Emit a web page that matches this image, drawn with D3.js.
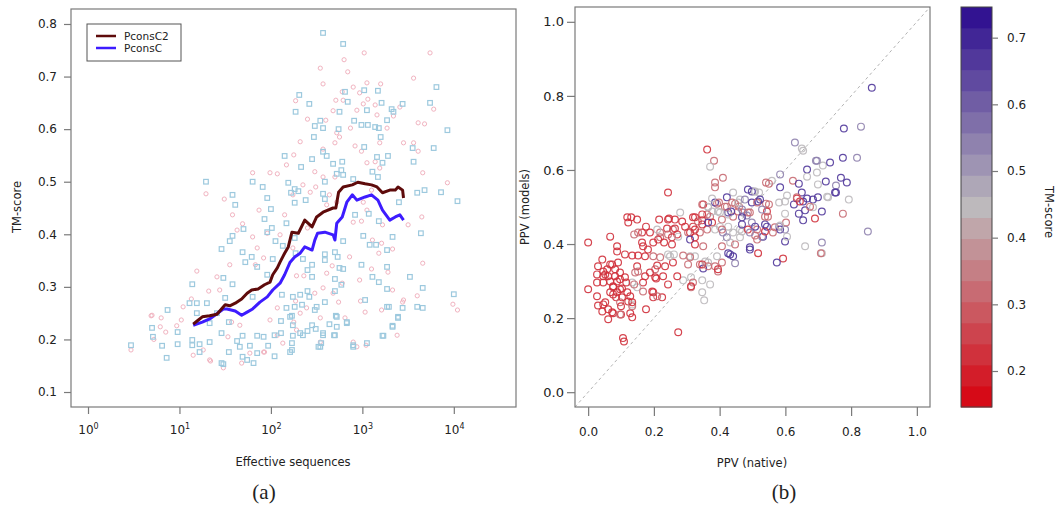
<!DOCTYPE html>
<html lang="en">
<head>
<meta charset="UTF-8"/>
<title>PconsC2 TM-score and PPV</title>
<script src="https://d3js.org/d3.v7.min.js"></script>
<style>
	body { margin: 0; background: #fff; }
	svg text { font-family: "DejaVu Sans", sans-serif; fill: #222; }
	.frame { fill: none; stroke: #7a7a7a; stroke-width: 1.2; }
	.axis path { display: none; }
	.axis line { stroke: #7a7a7a; stroke-width: 1.2; }
	.axis text { font-size: 12px; fill: #222; font-family: "DejaVu Sans", sans-serif; }
	.title { font-size: 11.5px; }
	.caption { font-family: "Liberation Serif", "DejaVu Serif", serif; font-size: 21px; }
</style>
</head>
<body>
<div id="chart"></div>
<script>
// (a) points: [log10(effective sequences), TM-score]
var pconsCPoints = [
[1.29,0.50],[1.80,0.50],[1.58,0.475],[1.91,0.49],[1.61,0.456],[1.96,0.469],[2.00,0.448],[1.93,0.429],[1.70,0.41],[1.46,0.372],
[1.58,0.397],[1.55,0.387],[1.69,0.366],[1.79,0.357],[1.72,0.347],[1.85,0.338],[2.01,0.412],[2.05,0.387],[2.13,0.378],[2.02,0.353],
[1.96,0.323],[1.48,0.317],[1.58,0.305],[1.14,0.305],[1.11,0.269],[1.19,0.269],[1.30,0.269],[1.50,0.279],[1.80,0.281],[0.87,0.256],
[0.70,0.222],[0.71,0.205],[0.81,0.188],[0.86,0.165],[0.47,0.189],[0.98,0.214],[0.98,0.191],[1.14,0.199],[1.14,0.189],[1.22,0.191],
[1.22,0.176],[1.33,0.195],[1.46,0.212],[1.54,0.233],[1.54,0.176],[1.46,0.155],[1.63,0.197],[1.69,0.207],[1.66,0.186],[1.77,0.188],
[1.85,0.207],[1.85,0.174],[1.92,0.205],[2.04,0.208],[1.97,0.188],[2.11,0.212],[2.11,0.235],[2.17,0.26],[2.23,0.245],[2.24,0.281],
[2.12,0.285],[1.69,0.167],[1.81,0.155],[2.04,0.168],[2.21,0.176],[2.23,0.193],[2.21,0.243],[2.24,0.227],[2.17,0.421],[2.26,0.393],
[2.19,0.498],[2.22,0.479],[2.26,0.486],[2.15,0.549],[1.96,0.404],[1.33,0.231],[1.41,0.25],[1.19,0.25],
[1.48,0.153],[1.74,0.161],[2.40,0.216],[2.54,0.186],[2.70,0.208],[2.90,0.186],[3.05,0.193],[3.22,0.207],[3.27,0.262],[3.39,0.243],
[3.33,0.224],[3.60,0.262],[3.66,0.26],[3.03,0.275],[2.72,0.243],[2.83,0.233],[2.48,0.256],[2.57,0.212],
[2.57,0.783],[2.79,0.762],[3.81,0.68],[3.02,0.674],[3.17,0.673],[2.81,0.671],[3.21,0.65],[3.05,0.636],[3.32,0.638],[3.34,0.633],
[3.44,0.648],[3.74,0.65],[2.84,0.652],[2.75,0.633],[2.91,0.616],[2.99,0.608],[3.06,0.608],[3.14,0.604],[3.18,0.602],[3.27,0.617],
[3.93,0.598],[2.57,0.602],[2.48,0.606],[2.54,0.616],[2.47,0.585],[2.31,0.665],[2.27,0.633],[2.42,0.648],[2.74,0.60],[3.20,0.585],
[3.02,0.566],[3.16,0.547],[3.28,0.549],[3.55,0.564],[3.78,0.564],[3.56,0.538],[2.61,0.549],[2.57,0.557],[2.45,0.543],[2.68,0.534],
[2.78,0.538],[2.33,0.528],[3.22,0.536],[3.17,0.509],[2.72,0.515],[2.79,0.513],[2.77,0.522],[3.11,0.519],[2.59,0.50],[2.90,0.505],
[3.68,0.484],[3.86,0.48],[4.04,0.463],[3.60,0.479],[3.40,0.461],[2.38,0.465],[2.26,0.46],[2.30,0.482],[2.59,0.467],[2.57,0.477],
[3.07,0.439],[3.18,0.425],[2.92,0.437],[3.64,0.402],[3.01,0.397],[3.08,0.38],[3.15,0.38],[3.33,0.395],[3.27,0.37],[2.79,0.387],
[2.59,0.362],[2.70,0.366],[2.73,0.357],[2.99,0.342],[3.27,0.338],[2.59,0.351],[2.45,0.342],[2.40,0.332],[2.35,0.353],[2.27,0.364],
[2.45,0.319],[2.75,0.336],[2.79,0.334],[2.70,0.315],[3.11,0.319],[3.18,0.309],[3.52,0.319],[3.66,0.298],[4.00,0.286],[3.27,0.296],
[2.70,0.292],[2.77,0.304],[2.40,0.292],[2.42,0.281],[2.32,0.285],[2.34,0.266],[2.26,0.262],[2.50,0.262],[2.59,0.271],[2.71,0.245],
[3.29,0.262],[3.44,0.26],[3.39,0.241],[3.33,0.226],[2.83,0.231],[2.45,0.227],[2.49,0.22],[2.64,0.229],[2.72,0.224],[2.57,0.208],
[2.69,0.208],[2.32,0.212],[2.35,0.208],[2.24,0.207],[2.55,0.193],[2.52,0.186],[2.90,0.189],[3.23,0.207],[2.23,0.18]
];
var pconsC2Points = [
[1.29,0.477],[1.49,0.467],[1.58,0.437],[1.87,0.446],[1.80,0.517],[1.99,0.517],[2.17,0.532],[2.07,0.515],[1.69,0.42],[1.80,0.395],
[1.96,0.402],[1.85,0.374],[1.92,0.355],[1.83,0.342],[1.55,0.342],[1.19,0.33],[1.41,0.319],[1.13,0.277],[1.32,0.292],[1.44,0.294],
[1.04,0.262],[0.69,0.245],[0.80,0.241],[1.02,0.237],[0.97,0.226],[0.85,0.214],[0.72,0.20],[0.47,0.18],[1.15,0.17],[1.26,0.18],
[1.34,0.159],[1.48,0.146],[1.57,0.233],[1.66,0.227],[1.77,0.174],[1.92,0.176],[2.13,0.193],[2.28,0.218],[2.07,0.26],[1.99,0.237],
[1.53,0.205],[2.10,0.399],[2.15,0.437],[1.63,0.408],
[0.70,0.246],[0.79,0.224],[1.33,0.161],[1.68,0.155],[1.93,0.176],[2.07,0.208],[2.54,0.195],[2.90,0.195],[3.04,0.189],[3.38,0.208],
[3.99,0.267],[4.04,0.256],[3.44,0.271],
[3.02,0.745],[3.74,0.745],[2.80,0.732],[2.54,0.716],[2.84,0.709],[3.56,0.697],[2.57,0.686],[2.90,0.68],[3.05,0.688],[3.20,0.686],
[2.78,0.671],[2.97,0.669],[3.06,0.657],[3.01,0.648],[3.14,0.646],[2.71,0.655],[2.79,0.655],[2.27,0.654],[2.68,0.635],[2.94,0.636],
[3.16,0.627],[3.34,0.625],[3.41,0.642],[3.78,0.638],[3.61,0.612],[3.68,0.61],[3.27,0.602],[2.40,0.619],[2.60,0.617],[2.87,0.602],
[2.72,0.593],[2.75,0.585],[2.32,0.576],[2.70,0.574],[2.92,0.568],[3.19,0.574],[3.45,0.574],[3.56,0.574],[3.61,0.558],[2.57,0.562],
[2.99,0.558],[2.25,0.551],[3.05,0.536],[3.14,0.538],[3.66,0.517],[2.48,0.519],[2.57,0.509],[2.70,0.509],[3.19,0.526],[3.93,0.498],
[2.35,0.494],[2.49,0.49],[2.43,0.48],[2.64,0.475],[2.61,0.456],[2.72,0.461],[3.01,0.461],[3.10,0.484],[2.24,0.475],[3.05,0.446],
[3.65,0.433],[2.90,0.423],[2.99,0.425],[3.22,0.418],[3.50,0.418],[2.40,0.412],[3.11,0.389],[3.21,0.383],[3.33,0.372],[2.24,0.374],
[2.86,0.357],[2.67,0.34],[3.18,0.364],[3.66,0.345],[3.10,0.334],[2.28,0.321],[2.36,0.321],[2.61,0.326],[3.28,0.328],[2.78,0.307],
[2.97,0.313],[3.33,0.294],[3.60,0.283],[2.57,0.298],[2.48,0.288],[2.68,0.288],[2.27,0.273],[2.74,0.271],[2.98,0.273],[3.45,0.275],
[3.03,0.252],[2.39,0.26],[3.21,0.256],[2.81,0.241],[2.54,0.241],[2.25,0.233],[2.32,0.25],[2.94,0.186]
];

// running averages
var pconsC2Line = [[1.15,0.229],[1.20,0.236],[1.25,0.243],[1.33,0.245],[1.41,0.248],[1.50,0.266],[1.55,0.264],[1.61,0.269],[1.68,0.277],
[1.74,0.288],[1.79,0.294],[1.86,0.296],[1.93,0.304],[1.99,0.309],[2.02,0.323],[2.07,0.336],[2.10,0.347],[2.15,0.364],[2.19,0.376],
[2.23,0.404],[2.30,0.402],[2.37,0.427],[2.45,0.414],[2.50,0.433],[2.57,0.442],[2.68,0.45],[2.71,0.45],[2.74,0.48],[2.79,0.49],
[2.89,0.494],[2.95,0.499],[3.03,0.496],[3.10,0.494],[3.16,0.49],[3.22,0.479],[3.30,0.484],[3.36,0.484],[3.39,0.49],[3.44,0.484],[3.45,0.469]];
var pconsCLine = [[1.15,0.227],[1.25,0.233],[1.33,0.239],[1.48,0.258],[1.52,0.258],[1.61,0.254],[1.68,0.246],[1.74,0.252],[1.80,0.258],
[1.88,0.271],[1.96,0.281],[2.02,0.294],[2.10,0.307],[2.15,0.323],[2.21,0.347],[2.26,0.357],[2.32,0.364],[2.37,0.376],[2.45,0.37],
[2.48,0.389],[2.51,0.402],[2.59,0.404],[2.68,0.399],[2.70,0.389],[2.72,0.421],[2.78,0.433],[2.83,0.461],[2.89,0.475],[2.94,0.465],
[3.03,0.471],[3.10,0.475],[3.17,0.465],[3.22,0.446],[3.30,0.427],[3.36,0.433],[3.41,0.437],[3.45,0.427]];

// (b) points: [PPV native, PPV models, TM-score]
var modelPoints = [
[0.863,0.822,0.68],[0.778,0.712,0.68],[0.830,0.717,0.55],[0.629,0.674,0.55],[0.650,0.658,0.46],[0.654,0.652,0.46],[0.362,0.655,0.22],
[0.383,0.625,0.32],[0.371,0.609,0.46],[0.410,0.579,0.32],[0.386,0.566,0.32],[0.386,0.553,0.32],[0.243,0.539,0.22],[0.693,0.625,0.55],
[0.714,0.612,0.46],[0.736,0.62,0.68],[0.775,0.633,0.68],[0.818,0.633,0.55],[0.666,0.601,0.68],[0.696,0.593,0.46],[0.723,0.569,0.68],
[0.754,0.558,0.55],[0.769,0.579,0.68],[0.787,0.566,0.68],[0.699,0.561,0.46],[0.666,0.582,0.46],[0.584,0.588,0.55],[0.584,0.553,0.68],
[0.623,0.571,0.32],[0.641,0.563,0.68],[0.650,0.539,0.68],[0.635,0.523,0.22],[0.654,0.515,0.68],[0.666,0.523,0.68],[0.684,0.520,0.68],
[0.699,0.526,0.68],[0.684,0.499,0.46],[0.660,0.491,0.68],[0.654,0.464,0.68],[0.675,0.501,0.32],[0.690,0.469,0.22],[0.711,0.488,0.68],
[0.751,0.539,0.68],[0.730,0.526,0.46],[0.793,0.520,0.46],[0.775,0.482,0.32],[0.851,0.434,0.55],[0.711,0.404,0.55],[0.599,0.407,0.68],
[0.660,0.394,0.46],[0.559,0.571,0.46],[0.550,0.563,0.32],[0.541,0.566,0.32],[0.520,0.539,0.46],[0.505,0.542,0.46],[0.498,0.542,0.68],
[0.517,0.515,0.68],[0.541,0.509,0.32],[0.550,0.507,0.32],[0.605,0.531,0.46],[0.599,0.515,0.46],[0.581,0.512,0.46],[0.544,0.488,0.22],
[0.538,0.474,0.32],[0.544,0.447,0.68],[0.568,0.445,0.32],[0.581,0.447,0.55],[0.584,0.439,0.68],[0.599,0.439,0.55],[0.605,0.420,0.46],
[0.532,0.420,0.68],[0.514,0.439,0.32],[0.498,0.458,0.55],[0.492,0.485,0.32],[0.483,0.477,0.55],[0.471,0.485,0.55],[0.459,0.501,0.32],
[0.462,0.520,0.46],[0.447,0.509,0.32],[0.441,0.539,0.46],[0.422,0.526,0.68],[0.416,0.501,0.32],[0.426,0.485,0.68],[0.407,0.466,0.32],
[0.401,0.485,0.46],[0.392,0.509,0.32],[0.365,0.499,0.46],[0.350,0.507,0.22],[0.371,0.474,0.32],[0.377,0.458,0.22],[0.347,0.464,0.22],
[0.319,0.447,0.22],[0.310,0.431,0.22],[0.340,0.431,0.32],[0.362,0.439,0.32],[0.386,0.439,0.46],[0.401,0.447,0.46],[0.280,0.485,0.46],
[0.286,0.461,0.22],[0.325,0.472,0.22],[0.334,0.461,0.32],[0.258,0.439,0.32],[0.243,0.466,0.22],[0.216,0.466,0.22],[0.240,0.442,0.22],
[0.219,0.431,0.32],[0.213,0.412,0.22],[0.243,0.426,0.32],[0.271,0.426,0.22],[0.255,0.418,0.22],[0.210,0.439,0.46],[0.176,0.447,0.22],
[0.164,0.431,0.22],[0.140,0.426,0.32],[0.149,0.466,0.22],[0.119,0.472,0.22],[0.122,0.458,0.22],[0.067,0.420,0.22],[0.088,0.394,0.22],
[0.000,0.404,0.22],[0.167,0.394,0.22],[0.410,0.431,0.55],[0.422,0.418,0.55],[0.441,0.431,0.46],[0.462,0.439,0.46],
[0.517,0.375,0.22],[0.593,0.361,0.22],[0.574,0.350,0.68],[0.711,0.375,0.46],[0.492,0.385,0.68],[0.426,0.375,0.68],[0.441,0.367,0.68],
[0.447,0.348,0.55],[0.350,0.334,0.68],[0.395,0.326,0.32],[0.356,0.353,0.46],[0.340,0.345,0.32],[0.407,0.350,0.32],[0.386,0.340,0.32],
[0.365,0.350,0.46],[0.289,0.302,0.46],[0.313,0.310,0.46],[0.347,0.302,0.46],[0.353,0.248,0.46],[0.313,0.283,0.32],[0.258,0.350,0.22],
[0.243,0.291,0.22],[0.271,0.313,0.22],[0.261,0.372,0.46],[0.249,0.367,0.46],[0.219,0.364,0.32],[0.204,0.332,0.32],[0.188,0.323,0.22],
[0.207,0.307,0.22],[0.225,0.256,0.22],[0.195,0.272,0.22],[0.198,0.256,0.22],[0.173,0.367,0.22],[0.182,0.385,0.22],[0.152,0.369,0.22],
[0.149,0.340,0.22],[0.143,0.323,0.32],[0.167,0.296,0.22],[0.134,0.296,0.46],[0.116,0.296,0.22],[0.097,0.305,0.22],[0.067,0.345,0.22],
[0.082,0.332,0.22],[0.052,0.318,0.22],[0.046,0.326,0.22],[0.061,0.313,0.22],[0.030,0.340,0.22],[0.027,0.318,0.22],[0.046,0.296,0.22],
[0.043,0.358,0.22],[0.027,0.296,0.22],[0.000,0.278,0.22],[0.027,0.259,0.22],[0.030,0.234,0.22],[0.052,0.243,0.22],[0.076,0.264,0.22],
[0.097,0.278,0.22],[0.088,0.299,0.22],[0.076,0.283,0.22],[0.067,0.270,0.22],[0.085,0.256,0.22],[0.097,0.243,0.32],[0.119,0.270,0.22],
[0.122,0.245,0.22],[0.134,0.237,0.46],[0.128,0.259,0.22],[0.100,0.232,0.22],[0.076,0.213,0.22],[0.100,0.210,0.22],[0.134,0.202,0.22],
[0.128,0.213,0.22],[0.106,0.146,0.22],[0.109,0.137,0.22],[0.061,0.224,0.22],[0.043,0.218,0.22],[0.061,0.197,0.22],[0.149,0.283,0.46],
[0.176,0.224,0.22],[0.198,0.270,0.22],[0.210,0.259,0.32],[0.274,0.162,0.22],[0.319,0.296,0.32],[0.347,0.270,0.46],[0.289,0.369,0.32],
[0.310,0.367,0.46],
[0.131,0.472,0.22],[0.152,0.431,0.32],[0.188,0.431,0.22],[0.246,0.469,0.22],[0.264,0.442,0.22],[0.255,0.399,0.22],[0.219,0.418,0.32],
[0.231,0.404,0.22],[0.243,0.372,0.46],[0.198,0.367,0.32],[0.210,0.342,0.22],[0.234,0.340,0.22],[0.228,0.313,0.22],[0.204,0.310,0.22],
[0.173,0.313,0.22],[0.152,0.326,0.32],[0.140,0.291,0.32],[0.167,0.272,0.32],[0.134,0.232,0.32],[0.097,0.210,0.32],[0.073,0.216,0.22],
[0.046,0.237,0.22],[0.088,0.270,0.22],[0.103,0.280,0.22],[0.134,0.243,0.22],[0.103,0.256,0.22],[0.076,0.286,0.22],[0.067,0.299,0.22],
[0.046,0.313,0.22],[0.058,0.332,0.22],[0.082,0.313,0.22],[0.097,0.323,0.22],[0.112,0.310,0.22],[0.091,0.350,0.22],[0.073,0.345,0.22],
[0.112,0.372,0.22],[0.134,0.369,0.22],[0.088,0.380,0.22],[0.164,0.404,0.22],[0.198,0.404,0.22],[0.264,0.466,0.22],[0.274,0.420,0.46],
[0.304,0.431,0.32],[0.325,0.439,0.22],[0.347,0.453,0.22],[0.325,0.418,0.22],[0.295,0.447,0.22],[0.310,0.412,0.68],[0.325,0.399,0.22],
[0.350,0.394,0.32],[0.325,0.367,0.46],[0.347,0.345,0.22],[0.310,0.364,0.32],[0.304,0.345,0.32],[0.313,0.286,0.22],[0.365,0.340,0.32],
[0.395,0.332,0.22],[0.371,0.291,0.46],[0.392,0.367,0.46],[0.407,0.394,0.32],[0.432,0.372,0.68],[0.432,0.404,0.46],[0.447,0.399,0.32],
[0.462,0.418,0.46],[0.468,0.434,0.46],[0.492,0.391,0.68],[0.514,0.412,0.32],[0.486,0.439,0.22],[0.468,0.453,0.68],[0.508,0.447,0.68],
[0.529,0.420,0.55],[0.538,0.434,0.22],[0.426,0.447,0.46],[0.407,0.439,0.32],[0.365,0.458,0.68],[0.441,0.474,0.32],[0.426,0.480,0.46],
[0.456,0.488,0.32],[0.468,0.493,0.55],[0.486,0.485,0.32],[0.468,0.472,0.68],[0.435,0.488,0.68],[0.422,0.501,0.32],[0.395,0.488,0.46],
[0.377,0.488,0.46],[0.362,0.480,0.32],[0.347,0.480,0.22],[0.319,0.472,0.22],[0.386,0.512,0.68],[0.398,0.512,0.32],[0.438,0.512,0.32],
[0.456,0.512,0.46],[0.477,0.520,0.55],[0.498,0.512,0.68],[0.514,0.512,0.32],[0.523,0.520,0.68],[0.529,0.493,0.55],[0.486,0.547,0.68],
[0.508,0.542,0.46],[0.365,0.501,0.46],[0.347,0.507,0.32],[0.377,0.523,0.46],
[0.696,0.625,0.55],[0.754,0.539,0.68],[0.727,0.528,0.46],[0.708,0.375,0.32],[0.602,0.458,0.32],[0.584,0.450,0.46],[0.562,0.431,0.32],
[0.508,0.423,0.32],[0.599,0.482,0.46],[0.538,0.453,0.68],[0.492,0.431,0.55],[0.547,0.474,0.32],[0.626,0.507,0.68],[0.644,0.515,0.22],
[0.635,0.526,0.32],[0.641,0.482,0.68]
];

var neffTicks = [0, 1, 2, 3, 4];
var tmTicks = [0.1, 0.2, 0.3, 0.4, 0.5, 0.6, 0.7, 0.8];
var ppvTicks = [0, 0.2, 0.4, 0.6, 0.8, 1.0];
var barTicks = [0.2, 0.3, 0.4, 0.5, 0.6, 0.7];
var legendNames = ["PconsC2", "PconsC"];

var w = 1055, h = 505;
var svg = d3.select("#chart").append("svg")
	.attr("width", w)
	.attr("height", h);

// ---------- panel (a)
var xLeft = d3.scaleLog().domain([Math.pow(10, -0.186), Math.pow(10, 4.68)]).range([71, 516]);
var yLeft = d3.scaleLinear().domain([0.0715, 0.8285]).range([407, 9]);
function lx(d) { return xLeft(Math.pow(10, d[0])); }
function ly(d) { return yLeft(d[1]); }

var left = svg.append("g");

left.selectAll(".pt2").data(pconsC2Points).enter().append("circle")
	.attr("cx", lx).attr("cy", ly).attr("r", 2.1)
	.attr("fill", "none").attr("stroke", "#f1b3c0").attr("stroke-width", 1);

left.selectAll(".pt1").data(pconsCPoints).enter().append("rect")
	.attr("x", function(d) { return lx(d) - 2.3; })
	.attr("y", function(d) { return ly(d) - 2.3; })
	.attr("width", 4.6).attr("height", 4.6)
	.attr("fill", "none").attr("stroke", "#9dc9de").attr("stroke-width", 1.2);

var line = d3.line().x(lx).y(ly);

left.append("path").datum(pconsCLine)
	.attr("d", line).attr("fill", "none")
	.attr("stroke", "#3d1cff").attr("stroke-width", 3).attr("stroke-linejoin", "round");
left.append("path").datum(pconsC2Line)
	.attr("d", line).attr("fill", "none")
	.attr("stroke", "#5e0b0b").attr("stroke-width", 3).attr("stroke-linejoin", "round");

left.append("rect").attr("class", "frame")
	.attr("x", 71).attr("y", 9).attr("width", 516 - 71).attr("height", 407 - 9);

var xAxisL = d3.axisBottom(xLeft)
	.tickValues(neffTicks.map(function(e) { return Math.pow(10, e); }))
	.tickSize(7).tickPadding(11).tickFormat("");
var gx = left.append("g").attr("class", "axis").attr("transform", "translate(0,407)").call(xAxisL);
gx.selectAll(".tick text").each(function(d, i) {
	var t = d3.select(this);
	t.text("10");
	t.append("tspan").attr("dy", -5).attr("font-size", "8px").text(neffTicks[i]);
});

left.append("g").attr("class", "axis").attr("transform", "translate(71,0)")
	.call(d3.axisLeft(yLeft).tickValues(tmTicks).tickSize(7).tickPadding(7).tickFormat(d3.format(".1f")));

left.append("text").attr("class", "title")
	.attr("x", 293).attr("y", 466).attr("text-anchor", "middle")
	.text("Effective sequences");
left.append("text").attr("class", "title")
	.attr("transform", "translate(21,207) rotate(-90)").attr("text-anchor", "middle")
	.text("TM-score");

// legend
var leg = left.append("g");
leg.append("rect").attr("x", 87).attr("y", 24).attr("width", 94).attr("height", 37)
	.attr("fill", "#fff").attr("stroke", "#555").attr("stroke-width", 1);
var legColors = ["#5e0b0b", "#3d1cff"];
legendNames.forEach(function(name, i) {
	leg.append("line").attr("x1", 96).attr("x2", 116)
		.attr("y1", 36 + i * 12).attr("y2", 36 + i * 12)
		.attr("stroke", legColors[i]).attr("stroke-width", 2.5);
	leg.append("text").attr("x", 124).attr("y", 40 + i * 12)
		.style("font-size", "10.5px").text(name);
});

left.append("text").attr("class", "caption")
	.attr("x", 264).attr("y", 499).attr("text-anchor", "middle").text("(a)");

// ---------- panel (b)
var xRight = d3.scaleLinear().domain([-0.04, 1.04]).range([575, 930]);
var yRight = d3.scaleLinear().domain([-0.04, 1.04]).range([407, 7]);

// colour bar, 19 flat bands
var barLo = 0.146, barHi = 0.746, nBands = 19;
var bandW = (barHi - barLo) / nBands;
var ramp = d3.scaleLinear().domain([barLo, 0.446, barHi])
	.range(["#d7000e", "#bdb9bc", "#2a0a8f"]);
function bandColor(v) {
	var k = Math.max(0, Math.min(nBands - 1, Math.floor((v - barLo) / bandW)));
	return ramp(barLo + (k + 0.5) * bandW);
}

var right = svg.append("g");

right.append("line")
	.attr("x1", xRight(-0.04)).attr("y1", yRight(-0.04))
	.attr("x2", xRight(1.04)).attr("y2", yRight(1.04))
	.attr("stroke", "#b3b3b3").attr("stroke-width", 1).attr("stroke-dasharray", "3,3");

right.selectAll(".mp").data(modelPoints).enter().append("circle")
	.attr("cx", function(d) { return xRight(d[0]); })
	.attr("cy", function(d) { return yRight(d[1]); })
	.attr("r", 3.4)
	.attr("fill", "none")
	.attr("stroke", function(d) { return bandColor(d[2]); })
	.attr("stroke-width", 1.2)
	.attr("stroke-opacity", 0.9);

right.append("rect").attr("class", "frame")
	.attr("x", 575).attr("y", 7).attr("width", 930 - 575).attr("height", 407 - 7);

right.append("g").attr("class", "axis").attr("transform", "translate(0,407)")
	.call(d3.axisBottom(xRight).tickValues(ppvTicks).tickSize(9).tickPadding(11).tickFormat(d3.format(".1f")));
right.append("g").attr("class", "axis").attr("transform", "translate(575,0)")
	.call(d3.axisLeft(yRight).tickValues(ppvTicks).tickSize(8).tickPadding(3).tickFormat(d3.format(".1f")))
	.selectAll("text").style("font-size", "13px");

right.append("text").attr("class", "title")
	.attr("x", 752).attr("y", 467).attr("text-anchor", "middle")
	.text("PPV (native)");
right.append("text").attr("class", "title")
	.attr("transform", "translate(529,207) rotate(-90)").attr("text-anchor", "middle")
	.text("PPV (models)");

right.append("text").attr("class", "caption")
	.attr("x", 784).attr("y", 499).attr("text-anchor", "middle").text("(b)");

var yBar = d3.scaleLinear().domain([barLo, barHi]).range([407, 7]);
var bar = svg.append("g");
bar.selectAll(".band").data(d3.range(nBands)).enter().append("rect")
	.attr("x", 961).attr("width", 31)
	.attr("y", function(k) { return yBar(barLo + (k + 1) * bandW); })
	.attr("height", function(k) { return yBar(barLo + k * bandW) - yBar(barLo + (k + 1) * bandW) + 0.5; })
	.attr("fill", function(k) { return ramp(barLo + (k + 0.5) * bandW); });
bar.append("rect").attr("x", 961).attr("y", 7).attr("width", 31).attr("height", 400)
	.attr("fill", "none").attr("stroke", "#444").attr("stroke-width", 1);
bar.append("g").attr("class", "axis").attr("transform", "translate(992,0)")
	.call(d3.axisRight(yBar).tickValues(barTicks).tickSize(6).tickPadding(9).tickFormat(d3.format(".1f")));
bar.append("text").attr("class", "title")
	.attr("transform", "translate(1045,212) rotate(90)").attr("text-anchor", "middle")
	.text("TM-score");
</script>
</body>
</html>
